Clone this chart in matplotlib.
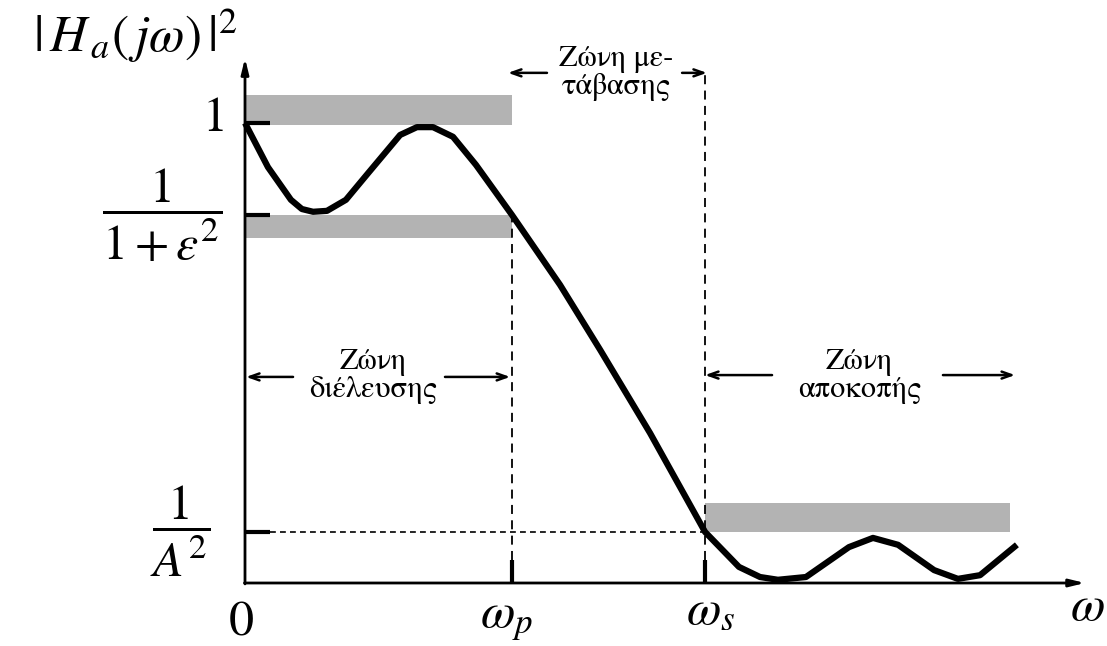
import matplotlib.pyplot as plt
from matplotlib.patches import Rectangle

plt.rcParams['font.family'] = ['STIXGeneral', 'Liberation Serif', 'DejaVu Serif']
plt.rcParams['mathtext.fontset'] = 'stix'

# Magnitude-squared response of an elliptic low-pass filter (sketch)
omega = [0.0, 0.086, 0.172, 0.213, 0.255, 0.307, 0.378, 0.464, 0.581, 0.644,
         0.704, 0.779, 0.865, 1.0, 1.180, 1.330, 1.517, 1.723, 1.850, 1.929,
         1.996, 2.101, 2.262, 2.352, 2.446, 2.581, 2.670, 2.753, 2.891]
mag = [1.0, 0.904, 0.833, 0.813, 0.807, 0.809, 0.833, 0.893, 0.974, 0.991,
       0.991, 0.970, 0.909, 0.800, 0.648, 0.507, 0.326, 0.111, 0.035, 0.013,
       0.007, 0.013, 0.078, 0.098, 0.083, 0.028, 0.009, 0.017, 0.083]

w_p = 1.0
w_s = 1.723
pass_level = 0.800    # 1/(1+eps^2)
stop_level = 0.111    # 1/A^2
w_end = 2.865

# grey tolerance bands: (x0, x1, y0, y1)
bands = [(0.0, w_p, 0.996, 1.061),
         (0.0, w_p, 0.750, pass_level),
         (w_s, w_end, stop_level, 0.174)]

fig = plt.figure(figsize=(11.07, 6.46), dpi=100)
ax = fig.add_axes([0, 0, 1, 1])
ax.set_xlim(-245 / 267, 862 / 267)
ax.set_ylim(-63 / 460, 583 / 460)
ax.axis('off')

grey = '#b3b3b3'
for x0, x1, y0, y1 in bands:
    ax.add_patch(Rectangle((x0, y0), x1 - x0, y1 - y0, color=grey, lw=0, zorder=1))

# axes with arrows
ax.annotate('', xy=(0, 1.141), xytext=(0, -0.002),
            arrowprops=dict(arrowstyle='-|>,head_length=0.9,head_width=0.22',
                            lw=2, color='k', shrinkA=0, shrinkB=0), zorder=3)
ax.annotate('', xy=(3.146, 0), xytext=(-0.002, 0),
            arrowprops=dict(arrowstyle='-|>,head_length=0.9,head_width=0.22',
                            lw=2, color='k', shrinkA=0, shrinkB=0), zorder=3)

# ticks on the vertical axis
for lev in [1.0, pass_level, stop_level]:
    ax.plot([0, 0.094], [lev, lev], color='k', lw=3, solid_capstyle='butt', zorder=3)

# ticks on the horizontal axis
for wv in [w_p, w_s]:
    ax.plot([wv, wv], [0, 0.05], color='k', lw=3, solid_capstyle='butt', zorder=3)

# dashed guide lines
ax.plot([w_p, w_p], [0.05, pass_level], color='k', lw=1.3, ls=(0, (5, 3.5)), zorder=2)
ax.plot([w_s, w_s], [0.05, 1.109], color='k', lw=1.3, ls=(0, (5, 3.5)), zorder=2)
ax.plot([0.094, w_s], [stop_level, stop_level], color='k', lw=1.2,
        ls=(0, (3.5, 2.5)), zorder=2)

# response curve
ax.plot(omega, mag, color='k', lw=4.5, solid_joinstyle='round',
        solid_capstyle='butt', zorder=4)

# band annotations
arrow = dict(arrowstyle='->,head_length=0.7,head_width=0.25', lw=1.8,
             color='k', shrinkA=0, shrinkB=0)
txt_kw = dict(fontsize=22, ha='center', va='center', linespacing=1.0)

ax.annotate('', xy=(0.985, 1.109), xytext=(1.131, 1.109), arrowprops=arrow)
ax.annotate('', xy=(1.730, 1.109), xytext=(1.637, 1.109), arrowprops=arrow)
ax.text(1.39, 1.109, 'Ζώνη με-\nτάβασης', **txt_kw)

ax.annotate('', xy=(0.004, 0.448), xytext=(0.180, 0.448), arrowprops=arrow)
ax.annotate('', xy=(0.993, 0.448), xytext=(0.749, 0.448), arrowprops=arrow)
ax.text(0.479, 0.450, 'Ζώνη\nδιέλευσης', **txt_kw)

ax.annotate('', xy=(1.723, 0.452), xytext=(1.974, 0.452), arrowprops=arrow)
ax.annotate('', xy=(2.884, 0.452), xytext=(2.614, 0.452), arrowprops=arrow)
ax.text(2.30, 0.450, 'Ζώνη\nαποκοπής', **txt_kw)

# axis labels
ax.text(-0.030, 1.19, r'$|\,H_{\,a}(\,j\omega)\,|^2$', fontsize=37, ha='right', va='center')
ax.text(-0.12, 1.007, r'$1$', fontsize=36, ha='center', va='center')
ax.text(-0.311, pass_level, r'$\dfrac{1}{1+\varepsilon^2}$', fontsize=36,
        ha='center', va='center')
ax.text(-0.243, stop_level, r'$\dfrac{1}{A^2}$', fontsize=36,
        ha='center', va='center')
ax.text(-0.015, -0.113, r'$0$', fontsize=36, ha='center', va='baseline')
ax.text(0.880, -0.096, r'$\omega_p$', fontsize=36, ha='left', va='baseline')
ax.text(1.652, -0.087, r'$\omega_s$', fontsize=36, ha='left', va='baseline')
ax.text(3.090, -0.080, r'$\omega$', fontsize=36, ha='left', va='baseline')

fig.savefig('out.png', dpi=100)
